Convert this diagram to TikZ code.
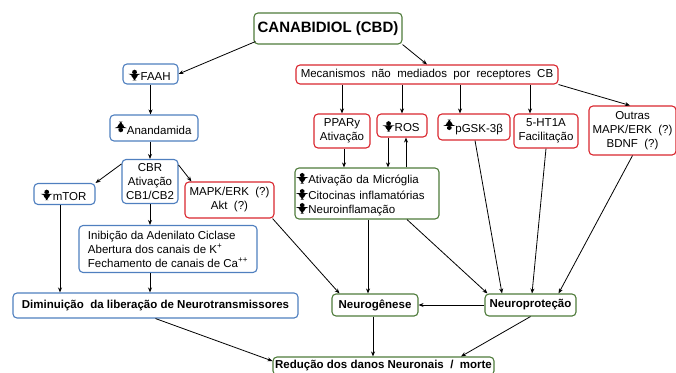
\documentclass[tikz,border=0pt]{standalone}
\usepackage{fontspec}
\setmainfont{Liberation Sans}
\usetikzlibrary{arrows.meta}
\definecolor{bbl}{HTML}{4F7FBF}
\definecolor{rrd}{HTML}{D9262E}
\definecolor{ggr}{HTML}{4E7B3A}
% the inner picture inherits the flipped y axis of the outer one, so these are drawn upside down
\newcommand{\upar}{\tikz[baseline=-0.8pt]\fill (-2.1pt,11.8pt) -- (2.1pt,11.8pt) -- (2.1pt,5.4pt) -- (4.2pt,5.4pt) -- (0pt,-0.8pt) -- (-4.2pt,5.4pt) -- (-2.1pt,5.4pt) -- cycle;}
\newcommand{\dnar}{\tikz[baseline=-0.8pt]\fill (-2.1pt,-0.8pt) -- (2.1pt,-0.8pt) -- (2.1pt,5.6pt) -- (4.2pt,5.6pt) -- (0pt,11.8pt) -- (-4.2pt,5.6pt) -- (-2.1pt,5.6pt) -- cycle;}
\tikzset{
  box/.style={draw, rounded corners=4pt, line width=1.1pt, font=\fontsize{11.5}{14}\selectfont, inner sep=0pt, align=center},
  bbox/.style={box, draw=bbl},
  rbox/.style={box, draw=rrd},
  gbox/.style={box, draw=ggr},
  bold/.style={font=\fontsize{11.5}{14}\selectfont\bfseries},
  arr/.style={-{Stealth[length=5pt,width=4pt]}, line width=0.8pt},
}
\begin{document}
\begin{tikzpicture}[x=1pt,y=-1pt]
\useasboundingbox (0,0) rectangle (676,372);
\node[gbox, font=\fontsize{15}{18}\selectfont\bfseries, minimum width=148pt, minimum height=31pt] (cbd) at (328,28.5) {CANABIDIOL (CBD)};
\node[bbox, minimum width=55pt, minimum height=20pt] (faah) at (150.5,74) {\dnar\,FAAH};
\node[rbox, minimum width=262pt, minimum height=19pt] (mec) at (427,74.5) {Mecanismos\ \ não\ \ mediados\ \ por\ \ receptores\ \ CB};
\node[bbox, minimum width=88pt, minimum height=26pt] (anan) at (154,128) {\upar\,Anandamida};
\node[rbox, minimum width=56pt, minimum height=34pt] (ppar) at (342,131) {PPARy\\Ativação};
\node[rbox, minimum width=50pt, minimum height=23pt] (ros) at (402,125.5) {\dnar\,ROS};
\node[rbox, minimum width=72pt, minimum height=26pt] (pgsk) at (474,127) {\upar\,pGSK-3β};
\node[rbox, minimum width=64pt, minimum height=34pt] (ht) at (546,131) {5-HT1A\\Facilitação};
\node[rbox, minimum width=87pt, minimum height=49pt] (out) at (632.5,130.5) {Outras\\MAPK/ERK\ \ (?)\\BDNF\ \ (?)};
\node[bbox, minimum width=56pt, minimum height=44pt] (cbr) at (150,181.5) {CBR\\Ativação\\CB1/CB2};
\node[bbox, minimum width=61pt, minimum height=21pt] (mtor) at (64.5,194) {\dnar\,mTOR};
\node[rbox, minimum width=89pt, minimum height=36pt] (mapk) at (229.5,200) {MAPK/ERK\ \ (?)\\Akt\ \ (?)};
\node[gbox, minimum width=144pt, minimum height=51pt, align=left, text width=138pt] (micro) at (367,193.5) {\dnar\,Ativação da Micróglia\\\dnar\,Citocinas inflamatórias\\\dnar\,Neuroinflamação};
\node[bbox, minimum width=178pt, minimum height=47pt, align=left] (inib) at (168,249) {Inibição da Adenilato Ciclase\\Abertura dos canais de K\textsuperscript{+}\\Fechamento de canais de Ca\textsuperscript{++}};
\node[bbox, bold, minimum width=285pt, minimum height=25pt] (dim) at (155.5,305.5) {Diminuição\ \ da liberação de Neurotransmissores};
\node[gbox, bold, minimum width=86pt, minimum height=22pt] (ngen) at (375,305) {Neurogênese};
\node[gbox, bold, minimum width=91pt, minimum height=22pt] (nprot) at (530.5,305) {Neuroproteção};
\node[gbox, bold, minimum width=221pt, minimum height=18pt] (red) at (383.5,366) {Redução dos danos Neuronais\ \ /\ \ morte};

\draw[arr] ([xshift=2pt,yshift=3pt]cbd.south west) -- (faah.east);
\draw[arr] (cbd.south east) -- (mec.north);
\draw[arr] (faah.south) -- (faah.south |- anan.north);
\draw[arr] (cbr.north |- anan.south) -- (cbr.north);
\draw[arr] ([yshift=-5pt]cbr.north west) -- (mtor.north east);
\draw[arr] ([yshift=-6pt]cbr.north east) -- ([xshift=7pt]mapk.north west);
\draw[arr] (cbr.south) -- (cbr.south |- inib.north);
\draw[arr] ([xshift=-4.5pt]mtor.south) -- ([xshift=-4.5pt]mtor.south |- dim.north);
\draw[arr] (inib.south -| cbr) -- (dim.north -| cbr);
\draw[arr] ([xshift=-2pt]mapk.south east) -- ([xshift=8pt]ngen.north west);
\draw[arr] (mec.south -| ppar) -- (ppar.north);
\draw[arr] (mec.south -| ros) -- (ros.north);
\draw[arr] ([xshift=-14pt]pgsk.north |- mec.south) -- ([xshift=-14pt]pgsk.north);
\draw[arr] ([xshift=-16pt]ht.north |- mec.south) -- ([xshift=-16pt]ht.north);
\draw[arr] (mec.south east) -- ([xshift=-2.5pt]out.north);
\draw[arr] ([xshift=2pt]ppar.south) -- ([xshift=2pt]ppar.south |- micro.north);
\draw[arr] ([xshift=-14pt]ros.south) -- ([xshift=-14pt]ros.south |- micro.north);
\draw[arr] ([xshift=4pt]ros.south |- micro.north) -- ([xshift=4pt]ros.south);
\draw[arr] ([xshift=1pt]micro.south) -- ([xshift=1pt]micro.south |- ngen.north);
\draw[arr] ([xshift=40pt]micro.south) -- ([xshift=3pt]nprot.north west);
\draw[arr] ([xshift=1pt]pgsk.south) -- ([xshift=-28.5pt]nprot.north);
\draw[arr] (ht.south) -- ([xshift=1.5pt]nprot.north);
\draw[arr] (out.south) -- ([xshift=-18pt]nprot.north east);
\draw[arr] (nprot.west) -- (ngen.east);
\draw[arr] ([xshift=-2pt]ngen.south) -- ([xshift=-2pt]ngen.south |- red.north);
\draw[arr] (nprot.south) -- ([xshift=77.5pt]red.north);
\draw[arr] (dim.south) -- ([yshift=5pt]red.west);
\end{tikzpicture}
\end{document}
